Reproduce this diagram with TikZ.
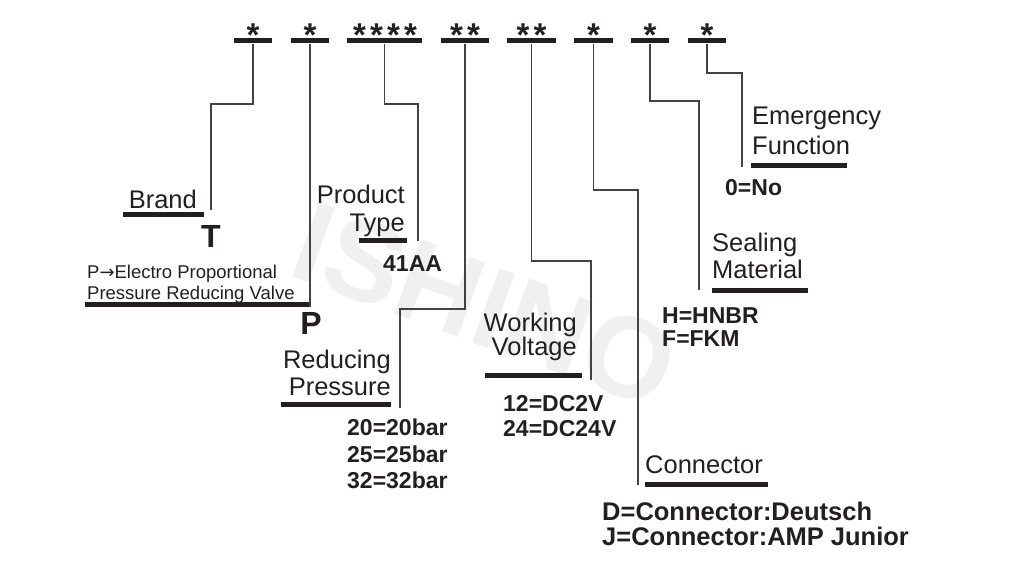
\documentclass[tikz,border=0pt]{standalone}
\usepackage{fontspec}
\setmainfont{Liberation Sans}
\newfontfamily\arrowfont{DejaVu Sans}
\definecolor{ink}{HTML}{231F20}
\definecolor{wmark}{HTML}{F0F0F0}
\newcommand\astk{\makebox[17pt]{*}}
\begin{document}
\begin{tikzpicture}[x=1pt,y=-1pt,
  lbl/.style={inner sep=0, text=ink, font=\fontsize{25.5}{#1}\selectfont},
  lbl/.default=28,
  val/.style={inner sep=0, text=ink, font=\bfseries\fontsize{23}{#1}\selectfont},
  val/.default=26,
  bigv/.style={inner sep=0, text=ink, font=\bfseries\fontsize{32}{32}\selectfont},
  small/.style={inner sep=0, text=ink, font=\fontsize{18.5}{21}\selectfont},
  topbar/.style={fill=ink, draw=none, inner sep=0, minimum height=5pt, minimum width=#1},
  stargrp/.style={inner sep=0, text=ink, font=\bfseries\fontsize{33}{33}\selectfont, anchor=base},
  ubar/.style={line width=5pt, draw=ink},
  conn/.style={line width=1.4pt, draw=ink!85}]
\useasboundingbox (0,0) rectangle (1021,585);

% watermark
\node[rotate=-20, text=wmark, font=\bfseries\fontsize{115}{115}\selectfont, inner sep=0] (wm) at (485,305) {ISHINO};

% top bars
\node[topbar=38pt] (b1) at (253,41) {};
\node[topbar=38pt] (b2) at (310,41) {};
\node[topbar=75pt] (b3) at (384.5,41) {};
\node[topbar=48pt] (b4) at (465,41) {};
\node[topbar=49pt] (b5) at (531.5,41) {};
\node[topbar=39pt] (b6) at (593.5,41) {};
\node[topbar=38pt] (b7) at (650,41) {};
\node[topbar=38pt] (b8) at (707,41) {};

% stars
\node[stargrp] (s1) at (253,46.5) {\astk};
\node[stargrp] (s2) at (310,46.5) {\astk};
\node[stargrp] (s3) at (385,46.5) {\astk\astk\astk\astk};
\node[stargrp] (s4) at (465,46.5) {\astk\astk};
\node[stargrp] (s5) at (531.5,46.5) {\astk\astk};
\node[stargrp] (s6) at (593.5,46.5) {\astk};
\node[stargrp] (s7) at (650,46.5) {\astk};
\node[stargrp] (s8) at (707,46.5) {\astk};

% labels
\node[lbl, anchor=north east] (brand) at (197,190) {Brand};
\node[bigv, anchor=north] (T) at (211,225) {T};
\node[small, anchor=north west, align=left] (pdesc) at (87,265) {P{\arrowfont\fontsize{18}{21}\selectfont →}Electro Proportional\\Pressure Reducing Valve};
\node[bigv, anchor=north] (P) at (311,312) {P};
\node[lbl=27, anchor=north east, align=right] (redp) at (391,350) {Reducing\\Pressure};
\node[val=26.5, anchor=north west, align=left] (pvals) at (347,419) {20=20bar\\25=25bar\\32=32bar};
\node[lbl=28, anchor=north east, align=right] (ptype) at (405,185) {Product\\Type};
\node[val, anchor=north west] (tval) at (383,255) {41AA};
\node[lbl=24, anchor=north east, align=right] (wv) at (577,313) {Working\\Voltage};
\node[val=25, anchor=north west, align=left] (wvals) at (503,395) {12=DC2V\\24=DC24V};
\node[lbl, anchor=north west] (cn) at (645,455) {Connector};
\node[inner sep=0, text=ink, font=\bfseries\fontsize{25.5}{25}\selectfont, anchor=north west, align=left] (cvals) at (602,502) {D=Connector:Deutsch\\J=Connector:AMP Junior};
\node[lbl=27, anchor=north west, align=left] (seal) at (712,233) {Sealing\\Material};
\node[val=23, anchor=north west, align=left] (svals) at (662,307) {H=HNBR\\F=FKM};
\node[lbl=30, anchor=north west, align=left] (emer) at (752,107) {Emergency\\Function};
\node[val, anchor=north west] (evals) at (725,179) {0=No};

% underline bars
\draw[ubar] (123,215) -- (204,215);
\draw[ubar] (85,305) -- (310,305);
\draw[ubar] (359,240.5) -- (407,240.5);
\draw[ubar] (281,404.5) -- (391,404.5);
\draw[ubar] (485,375.5) -- (582,375.5);
\draw[ubar] (645,484.5) -- (768,484.5);
\draw[ubar] (712,290.5) -- (808,290.5);
\draw[ubar] (751,166) -- (847,166);

% connector coordinates
\coordinate (k1) at (211,104); \coordinate (e1) at (211,210);
\coordinate (e2) at (310,307);
\coordinate (k3) at (418,104); \coordinate (e3) at (418,241);
\coordinate (k4) at (400,309); \coordinate (e4) at (400,408);
\coordinate (k5) at (591,261); \coordinate (e5) at (591,380);
\coordinate (k6) at (638,190); \coordinate (e6) at (638,485);
\coordinate (k7) at (699,101); \coordinate (e7) at (699,290);
\coordinate (k8) at (742,73);  \coordinate (e8) at (742,167);

% connectors
\draw[conn] (b1.south) |- (k1) -- (e1);
\draw[conn] (b2.south) -- (e2);
\draw[conn] (b3.south) |- (k3) -- (e3);
\draw[conn] (b4.south) |- (k4) -- (e4);
\draw[conn] (b5.south) |- (k5) -- (e5);
\draw[conn] (b6.south) |- (k6) -- (e6);
\draw[conn] (b7.south) |- (k7) -- (e7);
\draw[conn] (b8.south) |- (k8) -- (e8);
\end{tikzpicture}
\end{document}
